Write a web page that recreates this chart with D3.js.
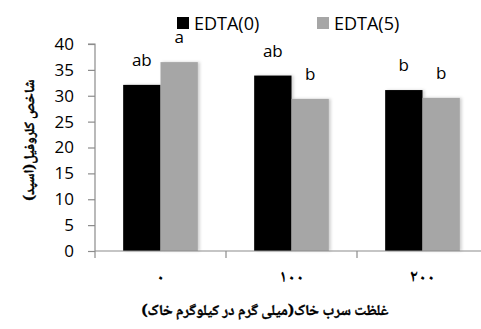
<!DOCTYPE html>
<html>
<head>
<meta charset="utf-8">
<script src="https://cdn.jsdelivr.net/npm/d3@7/dist/d3.min.js"></script>
<style>
  html, body { margin: 0; padding: 0; background: #fff; }
  svg { display: block; }
</style>
</head>
<body>
<svg id="chart" width="481" height="329"></svg>
<script>
// Chlorophyll index (SPAD) by soil lead concentration and EDTA level
const categories = ["۰", "۱۰۰", "۲۰۰"];
const seriesNames = ["EDTA(0)", "EDTA(5)"];
const edta0 = [32.1, 33.9, 31.1];
const edta5 = [36.5, 29.4, 29.6];
const letters0 = ["ab", "ab", "b"];
const letters5 = ["a", "b", "b"];
const yTicks = [0, 5, 10, 15, 20, 25, 30, 35, 40];
const colors = ["#000000", "#a6a6a6"];

const svg = d3.select("#chart");
const latin = "'Open Sans', Lato, 'Liberation Sans', sans-serif";
const arabic = "'Noto Naskh Arabic', 'Noto Sans Arabic', 'DejaVu Sans', sans-serif";

const plot = { left: 95, right: 488, top: 44, bottom: 251 };

const y = d3.scaleLinear().domain([0, 40]).range([plot.bottom, plot.top]);
const x0 = d3.scaleBand().domain(categories)
  .range([plot.left, plot.right]).paddingInner(0.43).paddingOuter(0.215);
const x1 = d3.scaleBand().domain(seriesNames).range([0, x0.bandwidth()]);

// soft shadow on the right of bars
const defs = svg.append("defs");
const f = defs.append("filter").attr("id", "shadow")
  .attr("x", "-10%").attr("y", "-10%").attr("width", "130%").attr("height", "120%");
f.append("feDropShadow").attr("dx", 2).attr("dy", 0)
  .attr("stdDeviation", 1.5).attr("flood-color", "#000").attr("flood-opacity", 0.18);

const rows = categories.map((c, i) => ({
  cat: c,
  vals: [
    { s: seriesNames[0], v: edta0[i], label: letters0[i] },
    { s: seriesNames[1], v: edta5[i], label: letters5[i] }
  ]
}));

// y axis
const yAxis = d3.axisLeft(y).tickValues(yTicks).tickSize(7).tickPadding(14);
const gy = svg.append("g").attr("transform", `translate(${plot.left},0)`).call(yAxis);
gy.select(".domain").attr("stroke", "#8c8c8c").attr("stroke-width", 1.2)
  .attr("d", `M-7,${plot.top}H0V${plot.bottom}`);
gy.selectAll(".tick line").attr("stroke", "#8c8c8c").attr("stroke-width", 1.2);
gy.selectAll(".tick text").attr("font-family", latin).attr("font-size", 17)
  .attr("fill", "#000");

// bars
const groups = svg.append("g").selectAll("g").data(rows).join("g")
  .attr("transform", d => `translate(${x0(d.cat)},0)`);
groups.selectAll("rect").data(d => d.vals).join("rect")
  .attr("x", d => x1(d.s))
  .attr("y", d => y(d.v))
  .attr("width", x1.bandwidth())
  .attr("height", d => y(0) - y(d.v))
  .attr("fill", (d, i) => colors[i])
  .attr("filter", "url(#shadow)");
groups.selectAll("text").data(d => d.vals).join("text")
  .attr("x", d => x1(d.s) + x1.bandwidth() / 2)
  .attr("y", d => y(d.v) - 19)
  .attr("text-anchor", "middle")
  .attr("font-family", latin).attr("font-size", 17)
  .text(d => d.label);

// x axis
const xAxis = d3.axisBottom(x0).tickSize(0).tickFormat(d => d);
const gx = svg.append("g").attr("transform", `translate(0,${plot.bottom})`).call(xAxis);
gx.select(".domain").attr("stroke", "#8c8c8c").attr("stroke-width", 1.2)
  .attr("d", `M${plot.left},0H481`);
gx.selectAll(".tick text").attr("font-family", arabic).attr("font-weight", "bold")
  .attr("font-size", 17).attr("letter-spacing", 3).attr("dy", 0).attr("y", 31)
  .attr("fill", "#000").attr("direction", "rtl");
// category boundary ticks
const step = x0.step();
gx.selectAll(".bound").data(d3.range(categories.length))
  .join("line").attr("class", "bound")
  .attr("x1", i => plot.left + i * step).attr("x2", i => plot.left + i * step)
  .attr("y1", 0).attr("y2", 7)
  .attr("stroke", "#8c8c8c").attr("stroke-width", 1.2);

// axis titles
svg.append("text")
  .attr("transform", `translate(34,140) rotate(-90)`)
  .attr("text-anchor", "middle").attr("direction", "rtl")
  .attr("font-family", arabic).attr("font-weight", "bold").attr("font-size", 14)
  .attr("stroke", "#000").attr("stroke-width", 0.35)
  .text("شاخص کلروفیل(اسپد)");
svg.append("text")
  .attr("x", 265).attr("y", 315)
  .attr("text-anchor", "middle").attr("direction", "rtl")
  .attr("font-family", arabic).attr("font-weight", "bold").attr("font-size", 15)
  .attr("stroke", "#000").attr("stroke-width", 0.35)
  .text("غلظت سرب خاک(میلی گرم در کیلوگرم خاک)");

// legend
const legendX = [177, 317];
const lg = svg.append("g").selectAll("g").data(seriesNames).join("g")
  .attr("transform", (d, i) => `translate(${legendX[i]},17)`);
lg.append("rect").attr("width", 12).attr("height", 12)
  .attr("fill", (d, i) => colors[i]);
lg.append("text").attr("x", 17).attr("y", 12.5)
  .attr("font-family", latin).attr("font-size", 18).text(d => d);
</script>
</body>
</html>
